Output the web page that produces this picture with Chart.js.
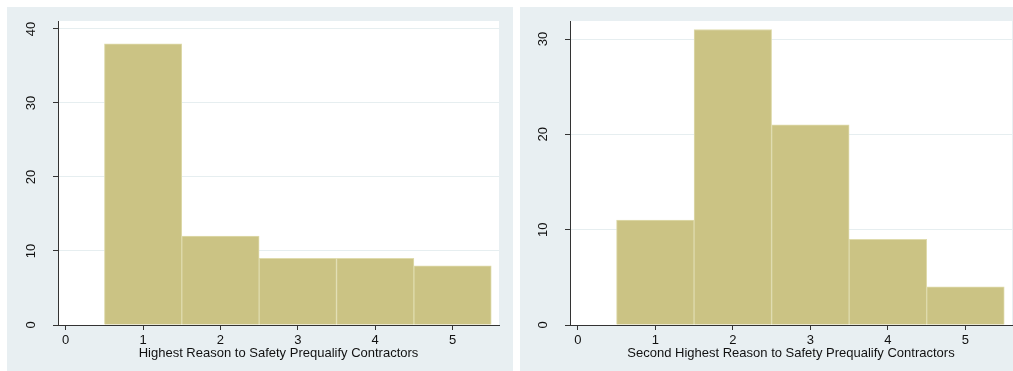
<!DOCTYPE html>
<html>
<head>
<meta charset="utf-8">
<script src="https://cdn.jsdelivr.net/npm/chart.js@4"></script>
<style>
  body { margin: 0; background: #fff; width: 1013px; height: 371px; position: relative; overflow: hidden; }
  canvas { position: absolute; background: #e8eff2; }
  #left { left: 7px; top: 7px; }
  #right { left: 520px; top: 7px; }
</style>
</head>
<body>
<canvas id="left" width="506" height="364"></canvas>
<canvas id="right" width="493" height="364"></canvas>
<script>
// reason codes (x) and counts per panel
const reasons = [1, 2, 3, 4, 5];
const highestCounts = [38, 12, 9, 9, 8];
const secondCounts = [11, 31, 21, 9, 4];
const xTicks = [0, 1, 2, 3, 4, 5];
const leftTitle = 'Highest Reason to Safety Prequalify Contractors';
const rightTitle = 'Second Highest Reason to Safety Prequalify Contractors';

const font = { family: '"Liberation Sans", Arial, sans-serif', size: 13 };

// white plot region
const plotBg = {
    id: 'plotBg',
    beforeDraw(chart) {
        const a = chart.chartArea;
        const ctx = chart.ctx;
        ctx.save();
        ctx.fillStyle = '#ffffff';
        ctx.fillRect(a.left, a.top, a.right - a.left, a.bottom - a.top);
        ctx.restore();
    }
};

const makeHist = (id, counts, yMax, title, yWidth, padRight) => {
    return new Chart(document.getElementById(id), {
        type: 'bar',
        data: {
            datasets: [{
                label: 'Frequency',
                data: reasons.map((r, i) => ({ x: r, y: counts[i] })),
                backgroundColor: '#cbc384',
                borderColor: '#dfdbad',
                borderWidth: 1,
                barPercentage: 1,
                categoryPercentage: 1
            }]
        },
        options: {
            responsive: false,
            animation: false,
            devicePixelRatio: 1,
            layout: { padding: { top: 14, right: padRight, left: 0, bottom: 0 } },
            plugins: { legend: { display: false }, tooltip: { enabled: false } },
            scales: {
                x: {
                    type: 'linear',
                    min: -0.1,
                    max: 5.6,
                    offset: false,
                    grid: { display: true, drawOnChartArea: false, tickLength: 5, tickColor: '#333', offset: false },
                    border: { color: '#333', width: 1 },
                    afterBuildTicks: s => { s.ticks = xTicks.map(v => ({ value: v })); },
                    afterFit: s => { s.height = 46; s.paddingLeft = 0; s.paddingRight = 0; },
                    ticks: { font: font, color: '#111', padding: 3, maxRotation: 0 },
                    title: { display: true, text: title, font: font, color: '#111', padding: { top: 0, bottom: 10 } }
                },
                y: {
                    min: 0,
                    max: yMax,
                    grid: { color: '#e6eef0', tickLength: 5, tickColor: '#333' },
                    border: { color: '#333', width: 1 },
                    afterFit: s => { s.width = yWidth; s.paddingTop = 0; s.paddingBottom = 0; },
                    ticks: { stepSize: 10, includeBounds: false, font: font, color: '#111', minRotation: 90, maxRotation: 90, crossAlign: 'center', padding: 14 }
                }
            }
        },
        plugins: [plotBg]
    });
};

makeHist('left', highestCounts, 41.08, leftTitle, 51, 14);
makeHist('right', secondCounts, 31.89, rightTitle, 50, 1);
</script>
</body>
</html>
